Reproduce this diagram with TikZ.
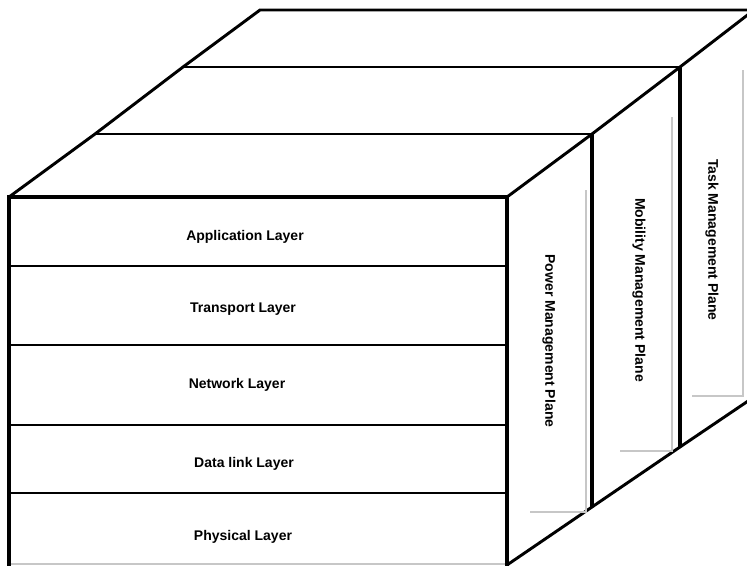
\documentclass[tikz,border=0pt]{standalone}
\usepackage{fontspec}
\setmainfont{Liberation Sans}

\begin{document}
\begin{tikzpicture}[x=0.75pt,y=-0.75pt,
	layer/.style={font=\bfseries\fontsize{10.5}{12}\selectfont},
	plane/.style={layer,rotate=-90},
	frame/.style={line width=3pt},
	rim/.style={line width=2.2pt},
	sep/.style={line width=1.4pt},
	ghost/.style={black!22,line width=1pt}]
		\clip (0,0) rectangle (747,565);
		% top face
		\draw [rim] (9,197) coordinate (a) -- (95,134) coordinate (a1) -- (183,67) coordinate (a2) -- (260,10) coordinate (a3) -- (754,10) coordinate (b3);
		\draw [rim] (507,197) coordinate (b) -- (592,134) coordinate (b1) -- (680,67) coordinate (b2) -- (b3);
		\draw [rim] (a1) -- (b1);
		\draw [rim] (a2) -- (b2);
		% side face
		\draw [rim] (507,565) coordinate (c) -- (592,507) coordinate (c1) -- (680,447) coordinate (c2) -- (754,397) coordinate (c3);
		\draw [frame] (b1) -- (c1);
		\draw [frame] (b2) -- (c2);
		\draw [ghost] (586,190) -- (586,512) -- (530,512);
		\draw [ghost] (672,117) -- (672,451) -- (620,451);
		\draw [ghost] (743,70) -- (743,396) -- (692,396);
		% front face
		\draw [ghost] (9,564) -- (507,564);
		\foreach \y in {266,345,425,493}
			\draw [sep] (9,\y) -- (507,\y);
		\draw [frame, line join=miter] (9,566) coordinate (d) -- (a) -- (b) -- (507,566);
		\node [layer] (app)   at (245,237) {Application Layer};
		\node [layer] (trans) at (243,309) {Transport Layer};
		\node [layer] (net)   at (237,385) {Network Layer};
		\node [layer] (dlink) at (244,464) {Data link Layer};
		\node [layer] (phy)   at (243,537) {Physical Layer};
		\node [plane] (power) at (549,341) {Power Management Plane};
		\node [plane] (mob)   at (639,290) {Mobility Management Plane};
		\node [plane] (task)  at (712,240) {Task Management Plane};
	\end{tikzpicture}
\end{document}
